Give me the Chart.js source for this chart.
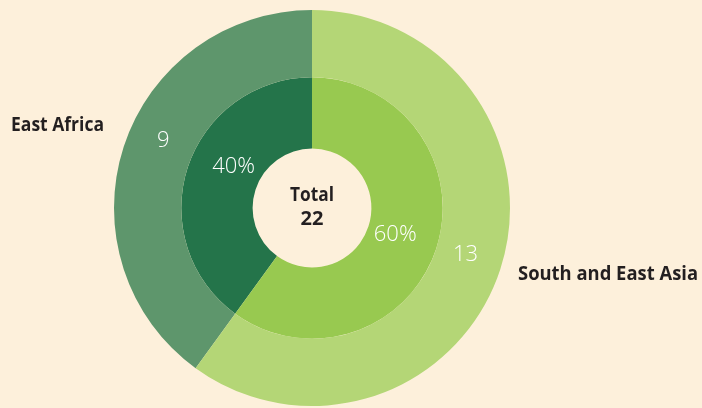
<!DOCTYPE html>
<html>
<head>
<meta charset="utf-8">
<script src="https://cdn.jsdelivr.net/npm/chart.js@4"></script>
<style>
    html, body { margin: 0; padding: 0; background: #fdf0db; }
    #wrap { width: 702px; height: 408px; }
</style>
</head>
<body>
<div id="wrap"><canvas id="myChart" width="702" height="408"></canvas></div>
<script>
// data
const categories = ['East Africa', 'South and East Asia'];
const counts = [9, 13];
const shares = [40, 60];
const totalLabel = ['Total', '22'];

const outerColors = ['#5e966c', '#b4d676'];
const innerColors = ['#24744a', '#98c950'];
const textDark = '#231f20';

// where the value labels sit: along the arc (0 = start, 1 = end) and across the ring
const labelAlong = [[0.55, 0.49], [0.58, 0.49]];
const labelAcross = [[0.5, 0.43], [0.43, 0.38]];

const startRotation = -shares[0] / shares.reduce((a, b) => a + b, 0) * 360;

const ringLabels = {
    id: 'ringLabels',
    afterDatasetsDraw(chart) {
        let ctx = chart.ctx;
        ctx.save();
        ctx.fillStyle = '#ffffff';
        ctx.font = '300 22px "Open Sans"';
        ctx.textAlign = 'center';
        ctx.textBaseline = 'middle';

        chart.data.datasets.forEach((ds, di) => {
            let meta = chart.getDatasetMeta(di);
            meta.data.forEach((arc, i) => {
                let p = arc.getProps(['x', 'y', 'startAngle', 'endAngle', 'innerRadius', 'outerRadius']);
                let a = p.startAngle + (p.endAngle - p.startAngle) * labelAlong[di][i];
                let r = p.innerRadius + (p.outerRadius - p.innerRadius) * labelAcross[di][i];
                let text = di === 0 ? String(counts[i]) : shares[i] + '%';
                // +3 because 'middle' sits the digits a bit high
                ctx.fillText(text, p.x + Math.cos(a) * r, p.y + Math.sin(a) * r + 3);
            });
        });

        // centre total
        let c = chart.getDatasetMeta(0).data[0];
        ctx.fillStyle = textDark;
        ctx.font = 'bold 20px "Open Sans"';
        ctx.fillText(totalLabel[0], c.x, c.y - 13, 44);
        ctx.fillText(totalLabel[1], c.x, c.y + 11, 44);

        // category names
        ctx.textBaseline = 'alphabetic';
        ctx.textAlign = 'left';
        ctx.fillText(categories[0], 11, 131, 93);
        ctx.fillText(categories[1], 518, 280, 180);
        ctx.restore();
    }
};

function drawChart() {
    let ctx = document.getElementById('myChart').getContext('2d');
    return new Chart(ctx, {
        type: 'doughnut',
        data: {
            labels: categories,
            datasets: [{
                label: 'Count',
                data: shares,
                backgroundColor: outerColors,
                borderWidth: 0,
                weight: 67
            }, {
                label: 'Share',
                data: shares,
                backgroundColor: innerColors,
                borderWidth: 0,
                weight: 71
            }]
        },
        options: {
            responsive: false,
            animation: false,
            events: [],
            rotation: startRotation,
            radius: 198,
            cutout: 60,
            layout: {
                padding: { left: 0, right: 78, top: 8, bottom: 0 }
            },
            plugins: {
                legend: { display: false },
                tooltip: { enabled: false }
            }
        },
        plugins: [ringLabels]
    });
}

drawChart();
</script>
</body>
</html>
